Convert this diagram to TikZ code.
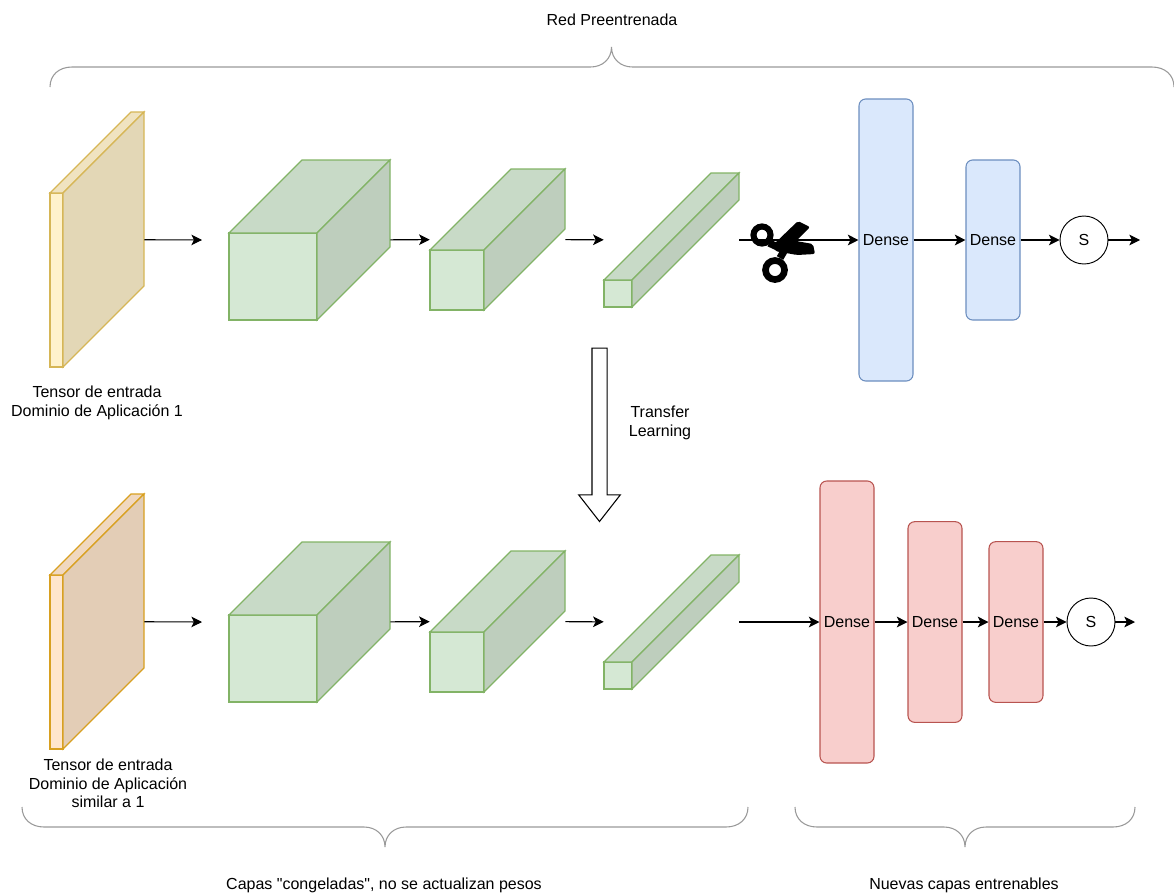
\documentclass[tikz,border=0pt]{standalone}
\usepackage{fontspec}
\setmainfont{Liberation Sans}[Ligatures=TeXOff]
\usetikzlibrary{arrows.meta,calc,positioning,shapes.arrows}
\definecolor{greenFill}{HTML}{D5E8D4}
\definecolor{greenLine}{HTML}{82B366}
\definecolor{yellowFill}{HTML}{FFF2CC}
\definecolor{yellowLine}{HTML}{D6B656}
\definecolor{orangeFill}{HTML}{FFE6CC}
\definecolor{orangeLine}{HTML}{D8A020}
\definecolor{blueFill}{HTML}{DAE8FC}
\definecolor{blueLine}{HTML}{6C8EBF}
\definecolor{redFill}{HTML}{F8CECC}
\definecolor{redLine}{HTML}{B85450}
\tikzset{
    x=0.75pt, y=-0.75pt,
    every node/.style={font=\fontsize{12pt}{14pt}\selectfont, align=center, inner sep=0pt},
    flow/.style={-{Stealth[length=8pt,width=8pt,inset=2pt]}, line width=0.8pt, black},
    denseBlue/.style={draw=blueLine, fill=blueFill, rounded corners=5pt, line width=0.8pt, minimum width=40.5pt},
    denseRed/.style={draw=redLine, fill=redFill, rounded corners=5pt, line width=0.8pt, minimum width=40.5pt},
    softmax/.style={draw=black, circle, fill=white, minimum size=36pt, line width=0.7pt},
    curly/.style={draw=black!40, line width=0.8pt}
}
% name, x, y, w, h, depth, fill, line
\newcommand{\tensorblock}[8]{
    \node[minimum width={(#4+#6)*0.75pt}, minimum height={(#5+#6)*0.75pt}] (#1) at ({#2+(#4+#6)/2},{#3-#6+(#5+#6)/2}) {};
    \draw[draw=#8, fill=#7, line width=0.9pt] (#2,#3) rectangle ++(#4,#5);
    \draw[draw=#8, fill=#7!94!black, line width=0.9pt] (#2,#3) -- ++(#6,-#6) -- ++(#4,0) -- ++(-#6,#6) -- cycle;
    \draw[draw=#8, fill=#7!89!black, line width=0.9pt] (#2+#4,#3) -- ++(#6,-#6) -- ++(0,#5) -- ++(-#6,#6) -- cycle;
}
% left end, right end, tip x, edge y, height of one bend (negative: bends down)
\newcommand{\curlybrace}[5]{
    \draw[curly] (#1,#4) .. controls (#1,#4-0.6*#5) and (#1+9,#4-#5) .. (#1+22,#4-#5)
        -- (#3-21,#4-#5) .. controls (#3-9,#4-#5) and (#3,#4-1.4*#5) .. (#3,#4-2*#5)
        .. controls (#3,#4-1.4*#5) and (#3+9,#4-#5) .. (#3+21,#4-#5)
        -- (#2-22,#4-#5) .. controls (#2-9,#4-#5) and (#2,#4-0.6*#5) .. (#2,#4);
}
\begin{document}
\begin{tikzpicture}
    \useasboundingbox (0,0) rectangle (1174,893);

    % upper network
    \tensorblock{in1}{50}{193}{13}{174}{81}{yellowFill}{yellowLine}
    \tensorblock{a1}{229}{233}{88}{87}{73}{greenFill}{greenLine}
    \tensorblock{a2}{430}{250}{54}{60}{81}{greenFill}{greenLine}
    \tensorblock{a3}{604}{280}{28}{27}{107}{greenFill}{greenLine}
    \node[denseBlue, minimum height=211.5pt] (b1) at (886,240) {Dense};
    \node[denseBlue, minimum height=120pt] (b2) at (993,240) {Dense};
    \node[softmax] (s1) at (1084,240) {S};
    \coordinate (e1) at (202,240);
    \coordinate (o1) at (1140,240);

    \draw[flow] (in1) -- (e1);
    \draw[flow] (a1) -- (a2);
    \draw[flow] (a2) -- (a3);
    \draw[flow] (a3) -- (b1);
    \draw[flow] (b1) -- (b2);
    \draw[flow] (b2) -- (s1);
    \draw[flow] (s1) -- (o1);

    % scissors
    \draw[line width=4.6pt] (762,235) circle (8.5);
    \draw[line width=5pt] (775,270) circle (9.5);
    \draw[line width=5.5pt] (769,243) -- (782,249);
    \draw[line width=5.5pt] (780,258) -- (787,246);
    \fill[rounded corners=1.5pt] (773,245) -- (798,221) -- (810,227) -- (796,241) -- (813,244) -- (815,254) -- (797,255) -- (775,251) -- cycle;

    % lower network
    \tensorblock{in2}{50}{575}{13}{174}{81}{orangeFill}{orangeLine}
    \tensorblock{c1}{229}{615}{88}{87}{73}{greenFill}{greenLine}
    \tensorblock{c2}{430}{632}{54}{60}{81}{greenFill}{greenLine}
    \tensorblock{c3}{604}{662}{28}{27}{107}{greenFill}{greenLine}
    \node[denseRed, minimum height=211.5pt] (r1) at (847,622) {Dense};
    \node[denseRed, minimum height=150.5pt] (r2) at (935,622) {Dense};
    \node[denseRed, minimum height=120.5pt] (r3) at (1016,622) {Dense};
    \node[softmax] (s2) at (1091,622) {S};
    \coordinate (e2) at (202,622);
    \coordinate (o2) at (1135,622);

    \draw[flow] (in2) -- (e2);
    \draw[flow] (c1) -- (c2);
    \draw[flow] (c2) -- (c3);
    \draw[flow] (c3) -- (r1);
    \draw[flow] (r1) -- (r2);
    \draw[flow] (r2) -- (r3);
    \draw[flow] (r3) -- (s2);
    \draw[flow] (s2) -- (o2);

    % transfer arrow
    \node[draw=black, fill=white, line width=0.8pt, inner sep=5.25pt, single arrow, shape border rotate=270, minimum height=130pt, single arrow head extend=10pt, single arrow head indent=0pt, single arrow tip angle=76] (t1) at (599.5,430) {};
    \node (t2) at (660,423) {Transfer\\Learning};

    % braces
    \curlybrace{50}{1174}{611.5}{87}{20}
    \curlybrace{22}{748}{385}{807}{-20}
    \curlybrace{795}{1135}{965}{807}{-20}

    % labels
    \node (l1) at (612,20) {Red Preentrenada};
    \node (l2) at (97,403) {Tensor de entrada\\Dominio de Aplicación 1};
    \node (l3) at (108,783.5) {Tensor de entrada\\Dominio de Aplicación\\similar a 1};
    \node (l4) at (384,885) {Capas "congeladas", no se actualizan pesos};
    \node (l5) at (964,885) {Nuevas capas entrenables};
\end{tikzpicture}
\end{document}
